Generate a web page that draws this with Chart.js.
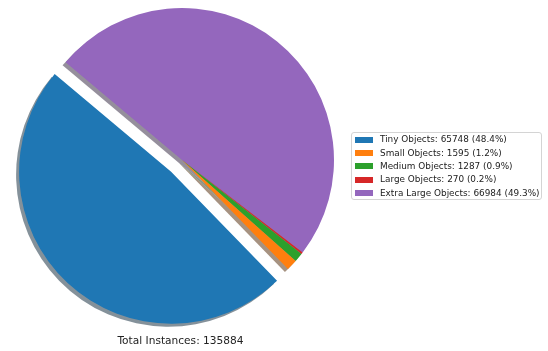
<!DOCTYPE html>
<html>
<head>
<meta charset="utf-8">
<script src="https://cdn.jsdelivr.net/npm/chart.js@4/dist/chart.umd.min.js"></script>
<style>
  body { margin: 0; background: #fff; width: 548px; height: 351px; position: relative; overflow: hidden; font-family: "DejaVu Sans", sans-serif; }
  #pie { position: absolute; left: 0; top: 0; }
  #total { position: absolute; left: 80px; width: 201px; top: 333px; text-align: center; font-size: 10.6px; line-height: 14px; color: #222; }
  #legend { position: absolute; left: 351px; top: 132px; width: 191px; height: 68px; border: 1px solid #d4d4d4; border-radius: 3px; box-sizing: border-box; }
  .row { position: absolute; left: 3px; height: 13px; line-height: 13px; font-size: 8.9px; color: #222; white-space: nowrap; }
  .sw { position: absolute; left: 0; top: 3.5px; width: 18px; height: 6px; }
  .lbl { position: absolute; left: 25px; top: 0; }
</style>
</head>
<body>
<canvas id="pie" width="364" height="351"></canvas>
<div id="total"></div>
<div id="legend"></div>
<script>
const categories = ['Tiny Objects', 'Small Objects', 'Medium Objects', 'Large Objects', 'Extra Large Objects'];
const counts = [65748, 1595, 1287, 270, 66984];
const colors = ['#1f77b4', '#ff7f0e', '#2ca02c', '#d62728', '#9467bd'];
const explodePx = [16, 0, 0, 0, 0];

const total = counts.reduce((a, b) => a + b, 0);

// matplotlib goes counter-clockwise from 140deg, chart.js goes clockwise -> feed reversed
const order = categories.map((_, i) => i).reverse();

function shade(hex) {
  const r = parseInt(hex.slice(1, 3), 16), g = parseInt(hex.slice(3, 5), 16), b = parseInt(hex.slice(5, 7), 16);
  return 'rgba(' + Math.round(r * 0.3) + ',' + Math.round(g * 0.3) + ',' + Math.round(b * 0.3) + ',0.5)';
}

function shift(el, i) {
  const mid = (el.startAngle + el.endAngle) / 2;
  const d = explodePx[order[i]];
  return [Math.cos(mid) * d, Math.sin(mid) * d];
}

const explodeDraw = {
  id: 'explodeDraw',
  beforeDatasetDraw(chart, args) {
    const ctx = chart.ctx;
    const els = args.meta.data;
    // shadows first, all under the wedges
    els.forEach((el, i) => {
      const [dx, dy] = shift(el, i);
      ctx.save();
      ctx.beginPath();
      ctx.moveTo(el.x + dx - 3, el.y + dy + 3);
      ctx.arc(el.x + dx - 3, el.y + dy + 3, el.outerRadius, el.startAngle, el.endAngle);
      ctx.closePath();
      ctx.fillStyle = shade(colors[order[i]]);
      ctx.fill();
      ctx.restore();
    });
    els.forEach((el, i) => {
      const [dx, dy] = shift(el, i);
      ctx.save();
      ctx.translate(dx, dy);
      el.draw(ctx);
      ctx.restore();
    });
    return false;
  }
};

new Chart(document.getElementById('pie'), {
  type: 'pie',
  data: {
    labels: order.map(i => categories[i]),
    datasets: [{
      data: order.map(i => counts[i]),
      backgroundColor: order.map(i => colors[i]),
      borderWidth: 0
    }]
  },
  options: {
    responsive: false,
    animation: false,
    events: [],
    devicePixelRatio: 1,
    rotation: 310,
    radius: 152,
    layout: { padding: { bottom: 31 } },
    plugins: { legend: { display: false }, tooltip: { enabled: false } }
  },
  plugins: [explodeDraw]
});

document.getElementById('total').textContent = 'Total Instances: ' + total;

const legend = document.getElementById('legend');
const rowTops = [0, 13.5, 26.5, 40, 53.5];
categories.forEach((c, i) => {
  const pct = (counts[i] / total * 100).toFixed(1);
  const row = document.createElement('div');
  row.className = 'row';
  row.style.top = rowTops[i] + 'px';
  row.innerHTML = '<span class="sw" style="background:' + colors[i] + '"></span><span class="lbl"></span>';
  row.querySelector('.lbl').textContent = c + ': ' + counts[i] + ' (' + pct + '%)';
  legend.appendChild(row);
});
</script>
</body>
</html>
